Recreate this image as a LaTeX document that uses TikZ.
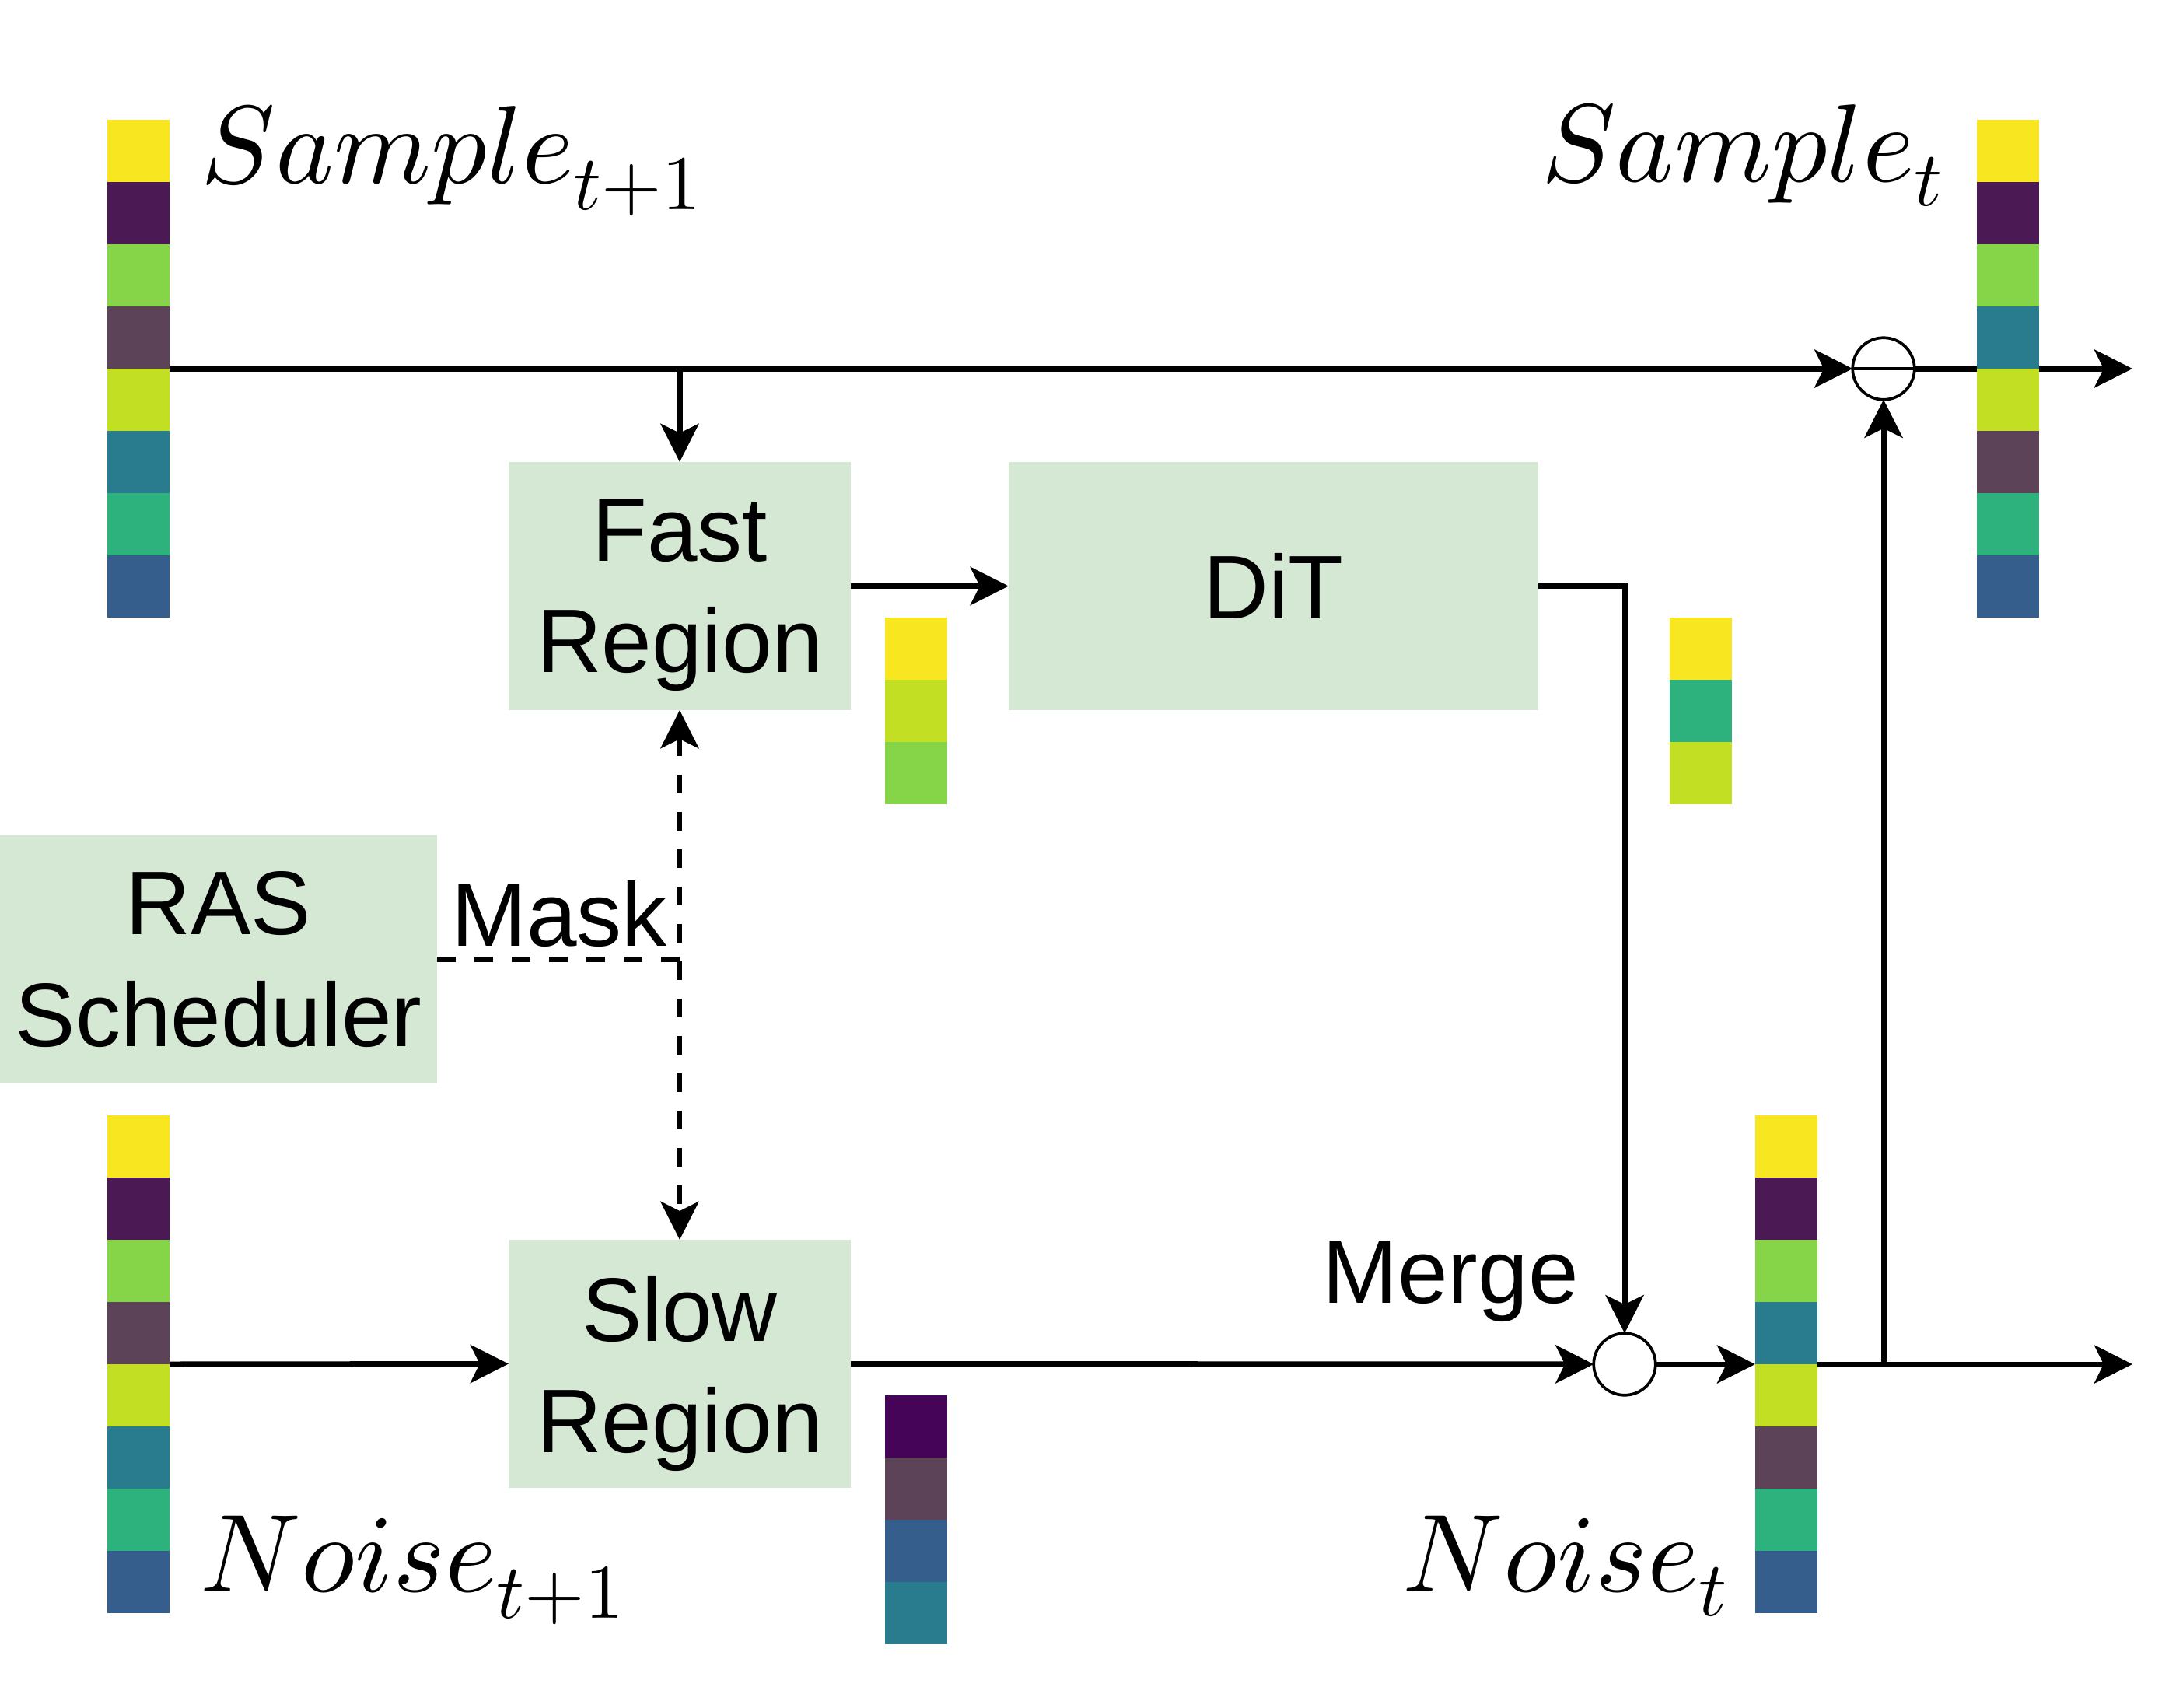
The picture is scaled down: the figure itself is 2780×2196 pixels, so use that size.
\documentclass[tikz,border=0pt]{standalone}
\usepackage[no-math]{fontspec}
\DeclareFontShape{OML}{cmm}{m}{it}{<->cmmi10}{}
\DeclareFontShape{OT1}{cmr}{m}{n}{<->cmr10}{}
\newfontfamily\arialf{Liberation Sans}
\usetikzlibrary{arrows.meta}
\definecolor{boxg}{HTML}{D5E8D4}
\definecolor{vy}{HTML}{F8E621}
\definecolor{vp}{HTML}{4B1A55}
\definecolor{vg}{HTML}{86D549}
\definecolor{vm}{HTML}{5C4357}
\definecolor{vyg}{HTML}{C2DF23}
\definecolor{vt}{HTML}{287C8E}
\definecolor{vgt}{HTML}{2DB27D}
\definecolor{vb}{HTML}{365E8D}
\definecolor{vd}{HTML}{450457}
\newcommand\cellsAt[3]{%
  \foreach \cc [count=\ii from 0] in {#3} {\fill[\cc] (#1,{#2+80*\ii}) rectangle ++(80,80);}}
\begin{document}
\begin{tikzpicture}[x=0.01cm,y=-0.01cm,
  tip/.tip={Stealth[length=0.49cm,width=0.49cm,inset=0.12cm]},
  box/.style={fill=boxg, draw=none, minimum width=4.4cm, minimum height=3.19cm,
    inner sep=0, outer sep=0, align=center, font=\arialf\fontsize{33}{40.7}\selectfont},
  arr/.style={line width=0.07cm, -tip},
  dline/.style={line width=0.065cm, dash pattern=on 0.24cm off 0.24cm},
  circ/.style={circle, draw, line width=0.037cm, fill=white, minimum size=0.795cm,
    inner sep=0, outer sep=0},
  colbox/.style={minimum width=0.8cm, inner sep=0, outer sep=0},
  mathlbl/.style={inner sep=0, font=\fontsize{40.5}{48}\selectfont},
  lbl/.style={inner sep=0, font=\arialf\fontsize{33}{40}\selectfont}]
\useasboundingbox (0,0) rectangle (2780,2196);

% column placeholders
\node[colbox, minimum height=6.4cm] (S1) at (178,474) {};
\node[colbox, minimum height=6.4cm] (N1) at (178,1754) {};
\node[colbox, minimum height=6.4cm] (S2) at (2582,474) {};
\node[colbox, minimum height=6.4cm] (N2) at (2297,1754) {};

% boxes
\node[box] (fast) at (874,753.5) {Fast\\\raisebox{0pt}[\height][0pt]{Region}};
\node[box, minimum width=6.81cm] (dit) at (1637.5,753.5) {DiT};
\node[box] (slow) at (874,1753.5) {Slow\\\raisebox{0pt}[\height][0pt]{Region}};
\node[box, minimum width=5.62cm] (ras) at (281,1233.5) {RAS\\Scheduler};

% operators
\node[circ] (minus) at (2422,474) {};
\draw[line width=0.037cm] (minus.west) -- (minus.east);
\node[circ] (merge) at (2089,1754) {};

% helper coordinates
\coordinate (jA) at (fast.north |- S1.east);
\coordinate (jB) at (minus.south |- N2.east);
\coordinate (jM) at (fast.south |- ras.east);
\coordinate (outA) at (2742,474);
\coordinate (outB) at (2742,1754);

% connectors
\draw[arr] (S1.east) -- (minus.west);
\draw[arr] (jA) -- (fast.north);
\draw[arr] (fast.east) -- (dit.west);
\draw[arr] (dit.east) -| (merge.north);
\draw[arr] (N1.east) -- (slow.west);
\draw[arr] (slow.east) -- (merge.west);
\draw[arr] (merge.east) -- (N2.west);
\draw[arr] (N2.east) -- (outB);
\draw[arr] (jB) -- (minus.south);
\draw[arr] (minus.east) -- (outA);
\draw[dline, tip-tip] (fast.south) -- (slow.north);
\draw[dline] (ras.east) -- (jM);

% token columns
\cellsAt{138}{154}{vy,vp,vg,vm,vyg,vt,vgt,vb}
\cellsAt{2542}{154}{vy,vp,vg,vt,vyg,vm,vgt,vb}
\cellsAt{138}{1434}{vy,vp,vg,vm,vyg,vt,vgt,vb}
\cellsAt{2257}{1434}{vy,vp,vg,vt,vyg,vm,vgt,vb}
\cellsAt{1138}{794}{vy,vyg,vg}
\cellsAt{2147}{794}{vy,vgt,vyg}
\cellsAt{1138}{1794}{vd,vm,vb,vt}

% labels
\node[mathlbl, anchor=base west] (ls1) at (258,235) {$Sample_{t+1}$};
\node[mathlbl, anchor=base east] (ls2) at (2500,233) {$Sample_t$};
\node[mathlbl, anchor=base west] (ln1) at (257,2046) {$Noise_{t+1}$};
\node[mathlbl, anchor=base west] (ln2) at (1803,2046) {$Noise_t$};
\node[lbl, anchor=base west] (lmask) at (580,1216) {Mask};
\node[lbl, anchor=base west] (lmerge) at (1700,1675) {Merge};
\end{tikzpicture}
\end{document}
